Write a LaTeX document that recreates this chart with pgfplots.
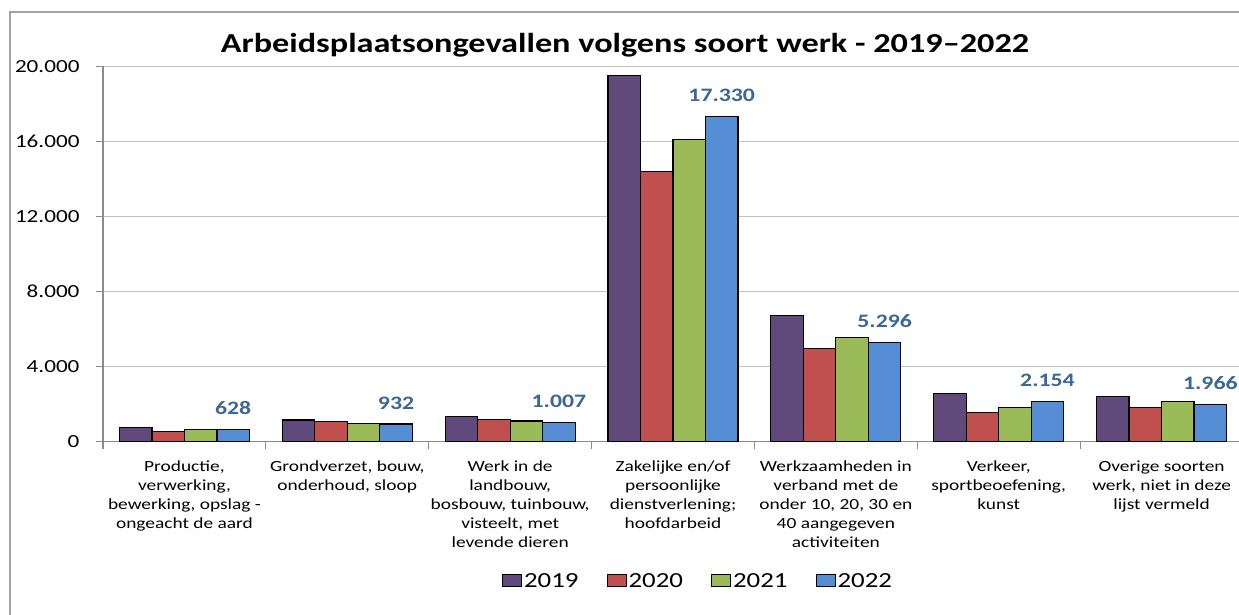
\documentclass[border=0pt]{standalone}
\usepackage{pgfplots}
\pgfplotsset{compat=1.18}
\usepackage{fontspec}
\setmainfont{Carlito}[FakeStretch=1.25]
\definecolor{c19}{HTML}{604A7B}
\definecolor{c20}{HTML}{C0504D}
\definecolor{c21}{HTML}{9BBB59}
\definecolor{c22}{HTML}{558ED5}
\definecolor{lab}{HTML}{3A6699}
\definecolor{gridc}{HTML}{BFBFBF}
\definecolor{axc}{HTML}{8C8C8C}
\begin{document}
\begin{tikzpicture}
\useasboundingbox (0pt,0pt) rectangle (1239pt,614pt);
\clip (0pt,0pt) rectangle (1239pt,614pt);
\fill[white] (0pt,0pt) rectangle (1239pt,614pt);
\draw[axc!80, line width=1.2pt] (10pt,-5pt) rectangle (1250pt,602pt);
\node[anchor=base, font=\fontsize{27.4}{31}\selectfont\bfseries] at (625pt,561pt) {Arbeidsplaatsongevallen volgens soort werk - 2019–2022};
\begin{axis}[
  at={(103pt,172.5pt)}, anchor=south west,
  scale only axis, width=1140pt, height=375pt,
  xmin=-0.5, xmax=6.5, ymin=0, ymax=20000,
  enlargelimits=false,
  ybar=0pt, bar width=32.5pt,
  axis x line*=bottom, axis y line*=left,
  axis line style={axc, line width=1.2pt},
  ymajorgrids, grid style={gridc, line width=1.2pt},
  ytick={0,4000,...,20000},
  scaled y ticks=false,
  tick align=outside,
  major tick length=7pt,
  tick style={axc, line width=1.2pt},
  xtick={-0.5,0.5,...,6.5},
  xticklabels={},
  extra x ticks={0,1,2,3,4,5,6},
  extra x tick style={major tick length=0pt, grid=none},
  extra x tick labels={
    {Productie,\\verwerking,\\bewerking, opslag -\\ongeacht de aard},
    {Grondverzet, bouw,\\onderhoud, sloop},
    {Werk in de\\landbouw,\\bosbouw, tuinbouw,\\visteelt, met\\levende dieren},
    {Zakelijke en/of\\persoonlijke\\dienstverlening;\\hoofdarbeid},
    {Werkzaamheden in\\verband met de\\onder 10, 20, 30 en\\40 aangegeven\\activiteiten},
    {Verkeer,\\sportbeoefening,\\kunst},
    {Overige soorten\\werk, niet in deze\\lijst vermeld}},
  xticklabel style={align=center, font=\fontsize{15.5}{19}\selectfont, yshift=-16pt},
  yticklabel style={font=\fontsize{18.5}{22}\selectfont, xshift=-13pt},
  legend style={at={(0.522,-0.372)}, anchor=center, draw=none, fill=none,
    font=\fontsize{21.5}{25}\selectfont, legend columns=4,
    /tikz/every even column/.append style={column sep=26pt}},
  legend image code/.code={\draw[#1, line width=1pt] (0pt,-5.5pt) rectangle (19pt,7pt);},
  /pgf/number format/assume math mode=true,
  /pgf/number format/1000 sep={.},
]
\addplot[fill=c19, draw=black, line width=1.2pt] coordinates {(0,740) (1,1150) (2,1320) (3,19500) (4,6700) (5,2580) (6,2420)};
\addplot[fill=c20, draw=black, line width=1.2pt] coordinates {(0,540) (1,1060) (2,1170) (3,14400) (4,4940) (5,1560) (6,1830)};
\addplot[fill=c21, draw=black, line width=1.2pt] coordinates {(0,640) (1,970) (2,1090) (3,16100) (4,5550) (5,1830) (6,2150)};
\addplot[fill=c22, draw=black, line width=1.2pt,
  nodes near coords,
  every node near coord/.append style={anchor=base, yshift=15pt, color=lab, font=\fontsize{19}{22}\selectfont\bfseries}
  ] coordinates {(0,628) (1,932) (2,1007) (3,17330) (4,5296) (5,2154) (6,1966)};
\legend{2019,2020,2021,2022}
\end{axis}
\end{tikzpicture}
\end{document}
